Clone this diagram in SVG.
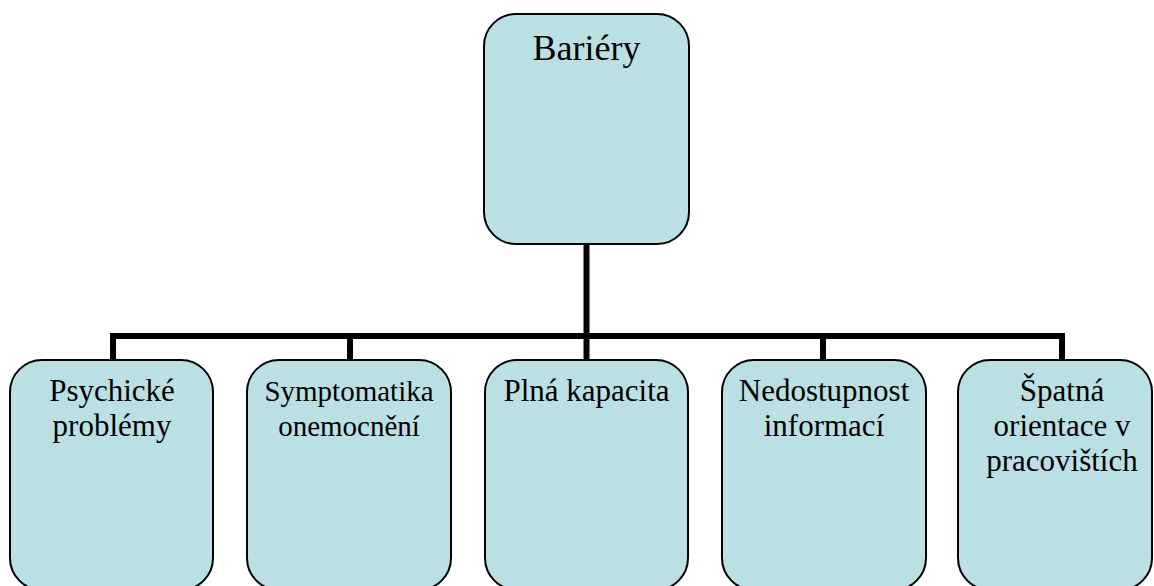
<svg xmlns="http://www.w3.org/2000/svg" width="1154" height="586" viewBox="0 0 1154 586">
  <style>
    .box { fill: #BBE0E3; stroke: #000; stroke-width: 2; }
    .lbl { font-family: "Liberation Serif", "Times New Roman", serif; font-size: 31px; fill: #000; text-anchor: middle; }
    .title { font-size: 36px; }
    .wire { fill: none; stroke: #000; stroke-width: 6; stroke-linecap: butt; }
  </style>
  <rect width="1154" height="586" fill="#fff"/>

  <g id="connectors">
    <path class="wire" d="M586.5 244 V336"/>
    <path class="wire" d="M110 336 H1065"/>
    <path class="wire" d="M113 336 V360"/>
    <path class="wire" d="M350 336 V360"/>
    <path class="wire" d="M586.5 336 V360"/>
    <path class="wire" d="M823 336 V360"/>
    <path class="wire" d="M1062 336 V360"/>
  </g>

  <g id="bariery">
    <rect class="box" x="484" y="14" width="205" height="230" rx="32"/>
    <text class="lbl title" x="586.5" y="60">Bariéry</text>
  </g>

  <g id="psychicke-problemy">
    <rect class="box" x="10" y="360" width="203" height="230" rx="32"/>
    <text class="lbl" x="112" y="401">Psychické</text>
    <text class="lbl" x="112" y="436">problémy</text>
  </g>

  <g id="symptomatika-onemocneni">
    <rect class="box" x="247" y="360" width="204" height="230" rx="32"/>
    <text class="lbl" x="349" y="401" style="font-size:29px">Symptomatika</text>
    <text class="lbl" x="349" y="436" style="font-size:29px">onemocnění</text>
  </g>

  <g id="plna-kapacita">
    <rect class="box" x="485" y="360" width="203" height="230" rx="32"/>
    <text class="lbl" x="586.5" y="401">Plná kapacita</text>
  </g>

  <g id="nedostupnost-informaci">
    <rect class="box" x="722" y="360" width="204" height="230" rx="32"/>
    <text class="lbl" x="824" y="401">Nedostupnost</text>
    <text class="lbl" x="824" y="436">informací</text>
  </g>

  <g id="spatna-orientace">
    <rect class="box" x="958" y="360" width="194" height="230" rx="32"/>
    <text class="lbl" x="1062" y="401">Špatná</text>
    <text class="lbl" x="1062" y="436">orientace v</text>
    <text class="lbl" x="1062" y="471">pracovištích</text>
  </g>
</svg>
